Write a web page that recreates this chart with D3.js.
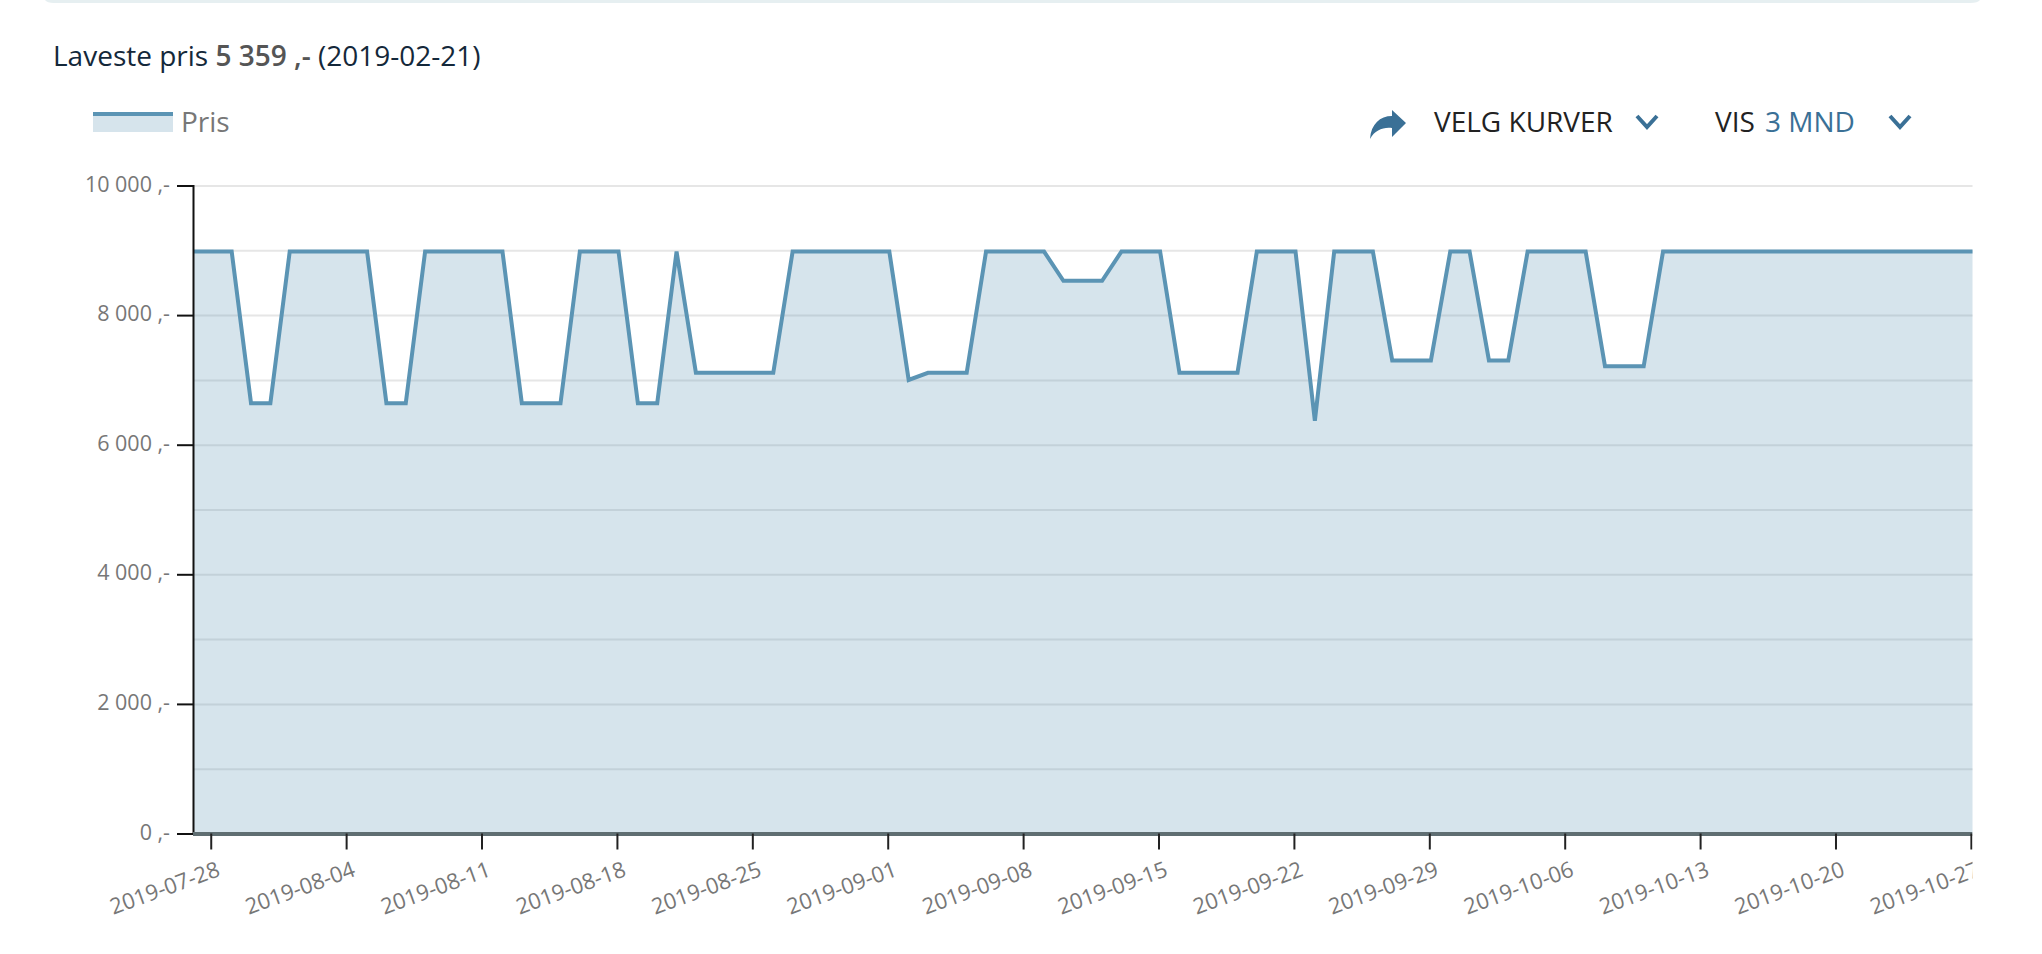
<!DOCTYPE html>
<html>
<head>
<meta charset="utf-8">
<script src="https://cdn.jsdelivr.net/npm/d3@7/dist/d3.min.js"></script>
<style>
html,body{margin:0;padding:0;background:#fff}
svg{display:block}
text{font-family:"Open Sans",sans-serif}
</style>
</head>
<body>
<svg id="chart" width="2042" height="954"></svg>
<script>
const startDay = "2019-07-27T02:00:00Z";
const prices = [
  8980,8980,8980,6640,6640,8980,8980,8980,8980,8980,
  6640,6640,8980,8980,8980,8980,8980,6640,6640,6640,
  8980,8980,8980,6640,6640,8980,7110,7110,7110,7110,
  7110,8980,8980,8980,8980,8980,8980,7000,7110,7110,
  7110,8980,8980,8980,8980,8530,8530,8530,8980,8980,
  8980,7110,7110,7110,7110,8980,8980,8980,6370,8980,
  8980,8980,7300,7300,7300,8980,8980,7300,7300,8980,
  8980,8980,8980,7210,7210,7210,8980,8980,8980,8980,
  8980,8980,8980,8980,8980,8980,8980,8980,8980,8980,
  8980,8980,8980
];
const xTickLabels = ["2019-07-28","2019-08-04","2019-08-11","2019-08-18","2019-08-25","2019-09-01","2019-09-08","2019-09-15","2019-09-22","2019-09-29","2019-10-06","2019-10-13","2019-10-20","2019-10-27"];
const yTickValues = [0,2000,4000,6000,8000,10000];
const gridValues = [1000,2000,3000,4000,5000,6000,7000,8000,9000,10000];
const seriesName = "Pris";

const left = 193, right = 1972.5, top_ = 185.5, bottom = 833.5;
const lineColor = "#5b94b4", accent = "#3a7096";
const svg = d3.select("#chart");

const t0 = new Date(startDay);
const dates = prices.map((_, i) => d3.utcDay.offset(t0, i));
const rows = dates.map((d, i) => ({date: d, value: prices[i]}));

const x = d3.scaleUtc().domain([t0, dates[dates.length - 1]]).range([left, right]);
const y = d3.scaleLinear().domain([0, 10000]).range([bottom, top_]);

const parseTick = d3.utcParse("%Y-%m-%d");
const fmtDate = d3.utcFormat("%Y-%m-%d");
const nf = d3.formatLocale({decimal: ",", thousands: " ", grouping: [3], currency: ["", ""]}).format(",d");

svg.append("defs").append("clipPath").attr("id", "xclip")
  .append("rect").attr("x", 0).attr("y", 0).attr("width", right).attr("height", 954);

// top card edge
svg.append("path")
  .attr("d", "M45,0 Q47,3 54,3 H1970 Q1978,3 1980,0 Z")
  .attr("fill", "#e6eff1");

// header text
const head = svg.append("text").attr("x", 53).attr("y", 66).attr("font-size", 28).attr("fill", "#14283a");
head.append("tspan").text("Laveste pris ");
head.append("tspan").attr("font-weight", 600).attr("fill", "#555").text("5 359 ,-");
head.append("tspan").text(" (2019-02-21)");

// legend
svg.append("rect").attr("x", 93).attr("y", 112).attr("width", 80).attr("height", 20).attr("fill", lineColor).attr("fill-opacity", 0.25);
svg.append("rect").attr("x", 93).attr("y", 112).attr("width", 80).attr("height", 4).attr("fill", lineColor);
svg.append("text").attr("x", 181).attr("y", 132).attr("font-size", 28).attr("fill", "#777").text(seriesName);

// controls
svg.append("path")
  .attr("d", "M1370,139 C1371,124 1380,116 1392,116 L1392,110 L1406,123 L1392,137 L1392,128 C1383,127 1375,130 1370,139 Z")
  .attr("fill", accent);
svg.append("text").attr("x", 1434).attr("y", 132).attr("font-size", 28).attr("fill", "#222").text("VELG KURVER");
svg.append("text").attr("x", 1715).attr("y", 132).attr("font-size", 28).attr("fill", "#222").text("VIS");
svg.append("text").attr("x", 1765).attr("y", 132).attr("font-size", 28).attr("fill", accent).text("3 MND");
[[1635,1659],[1888,1912]].forEach(([a, b]) => {
  svg.append("path").attr("d", `M${a+2},116 L${(a+b)/2},127 L${b-2},116`)
    .attr("fill", "none").attr("stroke", accent).attr("stroke-width", 4);
});

// grid
svg.append("g").attr("transform", `translate(${left},0)`)
  .call(d3.axisLeft(y).tickValues(gridValues).tickSize(-(right - left)).tickFormat(""))
  .call(g => g.select(".domain").remove())
  .call(g => g.selectAll("line").attr("stroke", "#e6e6e6").attr("stroke-width", 2));

// area + line
svg.append("path").datum(rows)
  .attr("d", d3.area().x(d => x(d.date)).y0(bottom).y1(d => y(d.value)))
  .attr("fill", lineColor).attr("fill-opacity", 0.25);
svg.append("path").datum(rows)
  .attr("d", d3.line().x(d => x(d.date)).y(d => y(d.value)))
  .attr("fill", "none").attr("stroke", lineColor).attr("stroke-width", 4).attr("stroke-linejoin", "miter");

// y axis
svg.append("g").attr("transform", `translate(${left},0)`)
  .call(d3.axisLeft(y).tickValues(yTickValues).tickSize(16).tickPadding(7).tickFormat(d => `${nf(d)} ,-`))
  .call(g => g.select(".domain").attr("stroke", "#111").attr("stroke-width", 2))
  .call(g => g.selectAll("line").attr("stroke", "#111").attr("stroke-width", 2))
  .call(g => g.selectAll("text").attr("fill", "#777").attr("font-size", 21.5).attr("font-family", '"Open Sans",sans-serif').attr("dy", "0.26em"));

// x axis
svg.append("g").attr("clip-path", "url(#xclip)")
  .append("g").attr("transform", `translate(0,${bottom})`)
  .call(d3.axisBottom(x).tickValues(xTickLabels.map(parseTick)).tickSize(16).tickFormat(fmtDate))
  .call(g => g.select(".domain").attr("stroke", "#5f6e72").attr("stroke-width", 4).attr("d", `M${left},0.5H${right}`))
  .call(g => g.selectAll("line").attr("stroke", "#222").attr("stroke-width", 2))
  .call(g => g.selectAll("text")
    .attr("fill", "#777").attr("font-size", 22).attr("font-family", '"Open Sans",sans-serif')
    .attr("text-anchor", "end").attr("dy", null).attr("y", 0)
    .attr("transform", "translate(10,42) rotate(-20)"));
</script>
</body>
</html>
